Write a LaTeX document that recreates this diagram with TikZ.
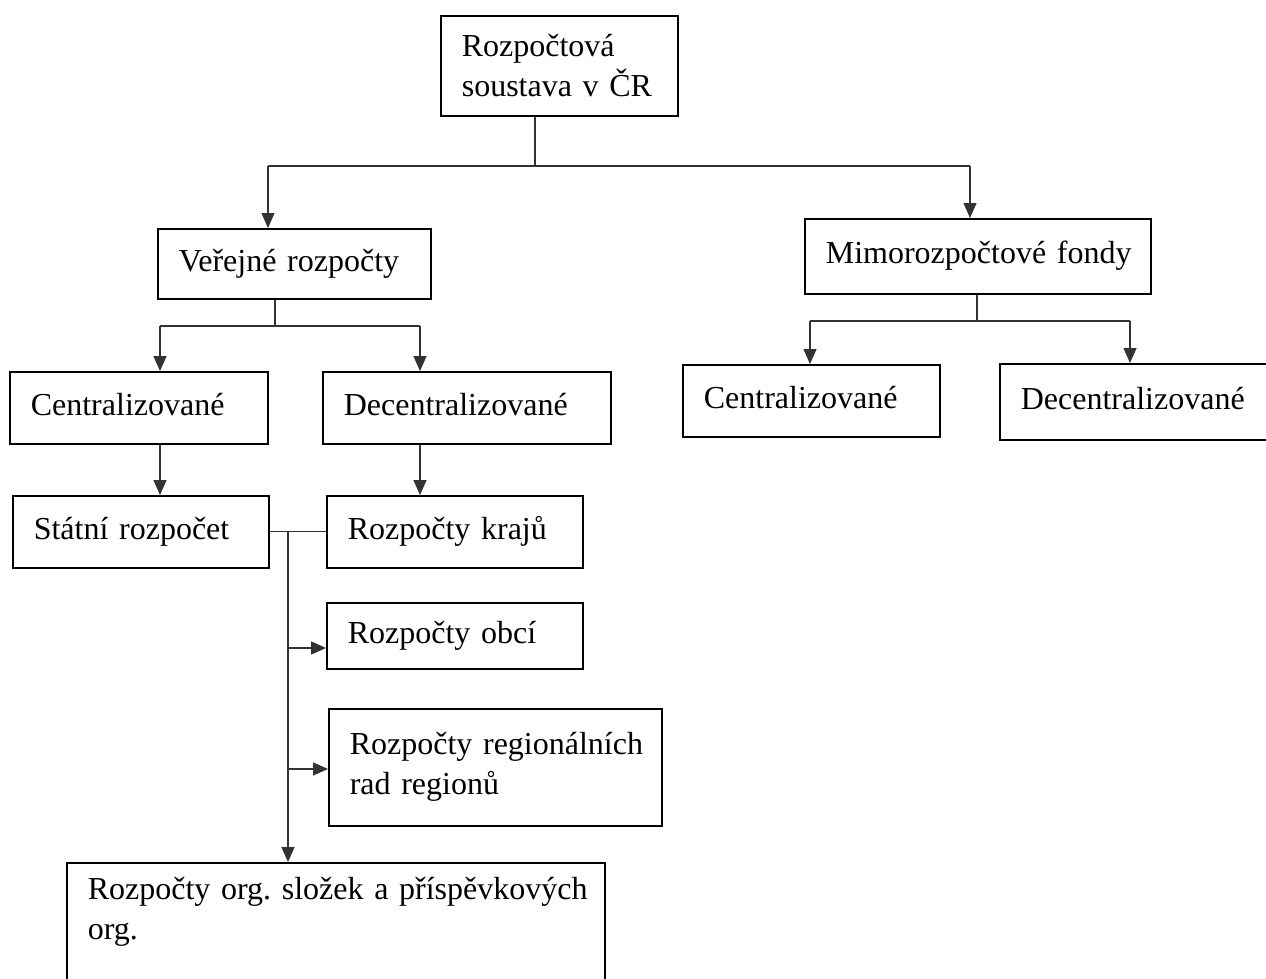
\documentclass[tikz,border=0pt]{standalone}
\usepackage{fontspec}
\setmainfont{Liberation Serif}
\usetikzlibrary{arrows.meta}
\begin{document}
\begin{tikzpicture}[x=1pt, y=-1pt, >={Triangle[length=15pt,width=13pt]},
  ramec/.style={draw, line width=1.6pt, anchor=north west, inner xsep=21pt, inner ysep=0pt, align=left, font=\fontsize{32}{40}\selectfont\frenchspacing},
  radek/.style={text height=22pt, text depth=7pt},
  spoj/.style={line width=1.1pt, draw=black!80},]
\useasboundingbox (0,0) rectangle (1266,979);
\clip (0,0) rectangle (1266,979);
\node[ramec, text width=195pt, minimum height=100pt] (koren) at (440,15) {\mbox{Rozpočtová}\\\mbox{soustava v ČR}};
\node[ramec, radek, text width=231pt, minimum height=70pt] (verejne) at (157,228) {\mbox{Veřejné rozpočty}};
\node[ramec, radek, text width=304pt, minimum height=75pt] (mimo) at (804,218) {\mbox{Mimorozpočtové fondy}};
\node[ramec, radek, text width=216pt, minimum height=72pt] (centrL) at (9,371) {\mbox{Centralizované}};
\node[ramec, radek, text width=246pt, minimum height=72pt] (decentrL) at (322,371) {\mbox{Decentralizované}};
\node[ramec, radek, text width=215pt, minimum height=72pt] (centrR) at (682,364) {\mbox{Centralizované}};
\node[ramec, radek, text width=250pt, minimum height=76pt] (decentrR) at (999,363) {\mbox{Decentralizované}};
\node[ramec, radek, text width=214pt, minimum height=72pt] (statni) at (12,495) {\mbox{Státní rozpočet}};
\node[ramec, radek, text width=214pt, minimum height=72pt] (kraje) at (326,495) {\mbox{Rozpočty krajů}};
\node[ramec, radek, text width=214pt, minimum height=66pt] (obce) at (326,602) {\mbox{Rozpočty obcí}};
\node[ramec, text width=291pt, minimum height=117pt] (regiony) at (328,708) {\mbox{Rozpočty regionálních}\\\mbox{rad regionů}};
\node[ramec, inner ysep=14pt, text depth=150pt, text width=496pt] (organizace) at (66,862) {\mbox{Rozpočty org. složek a příspěvkových}\\\mbox{org.}};
\coordinate (k1) at (535,166);
\coordinate (h1) at (268,166);
\coordinate (h2) at (970,166);
\draw[spoj] (k1 |- koren.south) -- (k1);
\draw[spoj] (h1) -- (h2);
\draw[spoj, ->] (h1) -- (h1 |- verejne.north);
\draw[spoj, ->] (h2) -- (h2 |- mimo.north);
\coordinate (v1) at (275,326);
\coordinate (v2) at (160,326);
\coordinate (v3) at (420,326);
\draw[spoj] (v1 |- verejne.south) -- (v1);
\draw[spoj] (v2) -- (v3);
\draw[spoj, ->] (v2) -- (v2 |- centrL.north);
\draw[spoj, ->] (v3) -- (v3 |- decentrL.north);
\coordinate (m1) at (977,321);
\coordinate (m2) at (810,321);
\coordinate (m3) at (1130,321);
\draw[spoj] (m1 |- mimo.south) -- (m1);
\draw[spoj] (m2) -- (m3);
\draw[spoj, ->] (m2) -- (m2 |- centrR.north);
\draw[spoj, ->] (m3) -- (m3 |- decentrR.north);
\draw[spoj, ->] (centrL.south -| v2) -- (statni.north -| v2);
\draw[spoj, ->] (decentrL.south -| v3) -- (kraje.north -| v3);
\draw[spoj] (statni.east) -- (kraje.west);
\coordinate (s1) at (288,531);
\coordinate (s2) at (288,648);
\coordinate (s3) at (288,769);
\draw[spoj, ->] (s1) -- (s1 |- organizace.north);
\draw[spoj, ->] (s2) -- (s2 -| obce.west);
\draw[spoj, ->] (s3) -- (s3 -| regiony.west);
\end{tikzpicture}
\end{document}
